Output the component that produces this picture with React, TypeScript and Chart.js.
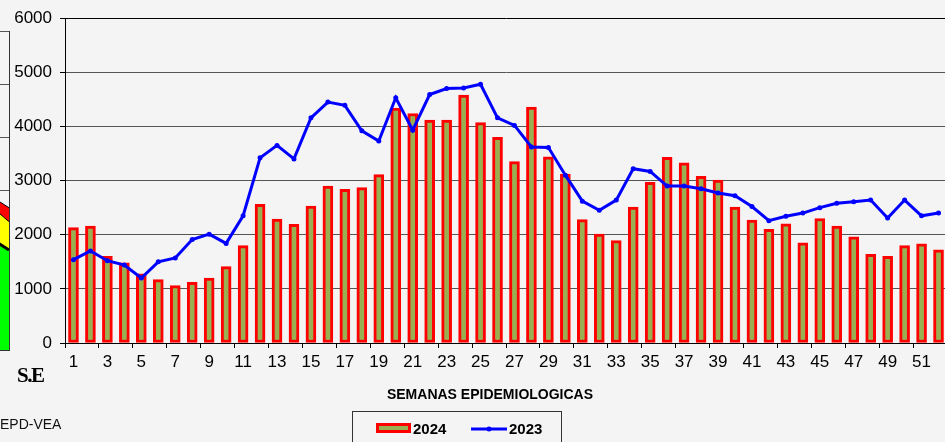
import React, { useEffect, useRef } from 'react';
import { Chart, registerables } from 'chart.js';

Chart.register(...registerables);

// ---- data ----
const weeks = [
  '1', '2', '3', '4', '5', '6', '7', '8', '9', '10',
  '11', '12', '13', '14', '15', '16', '17', '18', '19', '20',
  '21', '22', '23', '24', '25', '26', '27', '28', '29', '30',
  '31', '32', '33', '34', '35', '36', '37', '38', '39', '40',
  '41', '42', '43', '44', '45', '46', '47', '48', '49', '50',
  '51', '52',
];

const cases2024 = [
  2130, 2160, 1600, 1480, 1280, 1170, 1060, 1120, 1200, 1410,
  1800, 2560, 2290, 2190, 2530, 2900, 2840, 2870, 3110, 4340,
  4240, 4120, 4120, 4580, 4070, 3800, 3350, 4360, 3440, 3120,
  2280, 2010, 1890, 2510, 2970, 3430, 3330, 3080, 3010, 2510,
  2270, 2100, 2200, 1850, 2300, 2160, 1960, 1640, 1600, 1800,
  1830, 1720,
];

const cases2023 = [
  1540, 1700, 1520, 1440, 1200, 1500, 1570, 1910, 2010, 1840,
  2350, 3420, 3650, 3400, 4160, 4450, 4390, 3920, 3730, 4530,
  3930, 4590, 4700, 4710, 4780, 4160, 4020, 3620, 3610, 3100,
  2620, 2450, 2640, 3220, 3170, 2900, 2900, 2850, 2770, 2720,
  2520, 2260, 2340, 2400, 2500, 2580, 2610, 2640, 2310, 2640,
  2350, 2400,
];

const yTicks = [0, 1000, 2000, 3000, 4000, 5000, 6000];
const seriesNames = ['2024', '2023'];
const xTitle = 'SEMANAS EPIDEMIOLOGICAS';

// partial neighbouring chart (channel zones) visible at the far left
const zoneLabels = ['a', 'b'];
const zoneSuccess = [1234, 940];
const zoneSecurity = [1599, 1207];
const zoneAlert = [1632, 1338];

const FONT = 'Arial, "Liberation Sans", sans-serif';
const BG = '#f4f4f4';
const OLIVE = '#9aae52';

const overlayPlugin = {
  id: 'overlay',
  afterDraw(chart: any) {
    const { ctx } = chart;
    ctx.save();
    ctx.fillStyle = '#000';
    ctx.font = `bold 14px ${FONT}`;
    ctx.textAlign = 'center';
    ctx.textBaseline = 'middle';
    ctx.fillText(xTitle, 490, 395.5);

    // legend frame
    ctx.strokeStyle = '#333';
    ctx.lineWidth = 1;
    ctx.strokeRect(352.5, 411.5, 209, 40);

    const bar = chart.data.datasets[0];
    const line = chart.data.datasets[1];
    // bar symbol
    ctx.fillStyle = bar.borderColor;
    ctx.fillRect(376, 423, 35, 10);
    ctx.fillStyle = bar.backgroundColor;
    ctx.fillRect(379, 426, 29, 4);
    // line symbol
    ctx.strokeStyle = line.borderColor;
    ctx.lineWidth = 3;
    ctx.beginPath();
    ctx.moveTo(471, 429);
    ctx.lineTo(507, 429);
    ctx.stroke();
    ctx.fillStyle = line.borderColor;
    ctx.beginPath();
    ctx.arc(489, 429, 2.5, 0, Math.PI * 2);
    ctx.fill();

    ctx.fillStyle = '#000';
    ctx.font = `bold 15px ${FONT}`;
    ctx.textAlign = 'left';
    ctx.fillText(bar.label, 413, 429.5);
    ctx.fillText(line.label, 509, 429.5);
    ctx.restore();
  },
};

function MainChart() {
  const ref = useRef<HTMLCanvasElement>(null);
  useEffect(() => {
    if (!ref.current) return;
    const chart = new Chart(ref.current, {
      type: 'bar',
      data: {
        labels: weeks,
        datasets: [
          {
            type: 'bar',
            label: seriesNames[0],
            data: cases2024,
            backgroundColor: OLIVE,
            borderColor: '#ff0000',
            borderWidth: 3,
            borderSkipped: false,
            barThickness: 10,
            order: 2,
          } as any,
          {
            type: 'line',
            label: seriesNames[1],
            data: cases2023,
            borderColor: '#0000ff',
            backgroundColor: '#0000ff',
            borderWidth: 3,
            pointRadius: 2.5,
            pointBorderWidth: 0,
            pointBackgroundColor: '#0000ff',
            tension: 0,
            order: 1,
          } as any,
        ],
      },
      options: {
        responsive: false,
        animation: false,
        layout: { padding: { top: 18, right: 13, left: 0, bottom: 0 } },
        plugins: {
          legend: { display: false },
          tooltip: { enabled: false },
          title: { display: false },
        },
        scales: {
          x: {
            offset: true,
            grid: {
              offset: true,
              drawOnChartArea: false,
              drawTicks: true,
              tickLength: 5,
              tickColor: (c: any) => (c.index % 2 === 0 ? '#000' : 'rgba(0,0,0,0)'),
            },
            border: { display: true, color: '#000', width: 1 },
            ticks: {
              autoSkip: false,
              maxRotation: 0,
              minRotation: 0,
              padding: 4,
              color: '#000',
              font: { family: FONT, size: 17 },
              callback: (_v: any, i: number) => (i % 2 === 0 ? weeks[i] : ''),
            },
            afterFit: (s: any) => {
              s.height = 99;
            },
          },
          y: {
            min: yTicks[0],
            max: yTicks[yTicks.length - 1],
            afterBuildTicks: (s: any) => {
              s.ticks = yTicks.map((v) => ({ value: v }));
            },
            grid: {
              color: (c: any) => (c.tick && c.tick.value === 6000 ? '#000' : '#555'),
              tickLength: 5,
              tickColor: '#000',
            },
            border: { display: true, color: '#000', width: 1 },
            ticks: {
              padding: 8,
              color: '#000',
              font: { family: FONT, size: 17 },
              callback: (v: any) => String(v),
            },
            afterFit: (s: any) => {
              s.width = 65;
            },
          },
        },
      },
      plugins: [overlayPlugin],
    });
    return () => chart.destroy();
  }, []);
  return (
    <canvas
      ref={ref}
      width={960}
      height={442}
      style={{ position: 'absolute', left: 0, top: 0, width: 960, height: 442 }}
    />
  );
}

function ZoneChart() {
  const ref = useRef<HTMLCanvasElement>(null);
  useEffect(() => {
    if (!ref.current) return;
    const chart = new Chart(ref.current, {
      type: 'line',
      data: {
        labels: zoneLabels,
        datasets: [
          {
            label: 'exito',
            data: zoneSuccess,
            borderColor: '#000',
            borderWidth: 3,
            backgroundColor: '#00ff00',
            fill: 'origin',
            pointRadius: 0,
            tension: 0,
          },
          {
            label: 'seguridad',
            data: zoneSecurity,
            borderColor: '#000',
            borderWidth: 1,
            backgroundColor: '#ffff00',
            fill: '-1',
            pointRadius: 0,
            tension: 0,
          },
          {
            label: 'alerta',
            data: zoneAlert,
            borderColor: '#000',
            borderWidth: 1,
            backgroundColor: '#ff0000',
            fill: '-1',
            pointRadius: 0,
            tension: 0,
          },
        ],
      },
      options: {
        responsive: false,
        animation: false,
        layout: { padding: { top: 31, bottom: 92, left: 0, right: 1 } },
        plugins: { legend: { display: false }, tooltip: { enabled: false } },
        scales: {
          x: {
            offset: false,
            grid: { color: '#333', drawTicks: false },
            border: { display: true, color: '#333' },
            ticks: { display: false },
            afterFit: (s: any) => {
              s.height = 0;
            },
          },
          y: {
            min: 0,
            max: 3000,
            grid: { color: '#555', drawTicks: false },
            border: { display: false },
            ticks: { display: false, stepSize: 500 },
            afterFit: (s: any) => {
              s.width = 0;
            },
          },
        },
      },
    });
    return () => chart.destroy();
  }, []);
  return (
    <canvas
      ref={ref}
      width={50}
      height={442}
      style={{ position: 'absolute', left: -40, top: 0, width: 50, height: 442 }}
    />
  );
}

export default function App() {
  return (
    <div
      style={{
        position: 'fixed',
        left: 0,
        top: 0,
        width: 945,
        height: 442,
        overflow: 'hidden',
        background: BG,
      }}
    >
      <ZoneChart />
      <MainChart />
      <div
        style={{
          position: 'absolute',
          left: 17,
          top: 364,
          fontFamily: '"Liberation Serif", "Times New Roman", serif',
          fontWeight: 'bold',
          fontSize: 21,
          lineHeight: '22px',
          letterSpacing: -1.5,
          color: '#000',
        }}
      >
        S.E
      </div>
      <div
        style={{
          position: 'absolute',
          left: 0,
          top: 414,
          fontFamily: FONT,
          fontSize: 14,
          lineHeight: '20px',
          color: '#111',
        }}
      >
        EPD-VEA
      </div>
    </div>
  );
}
